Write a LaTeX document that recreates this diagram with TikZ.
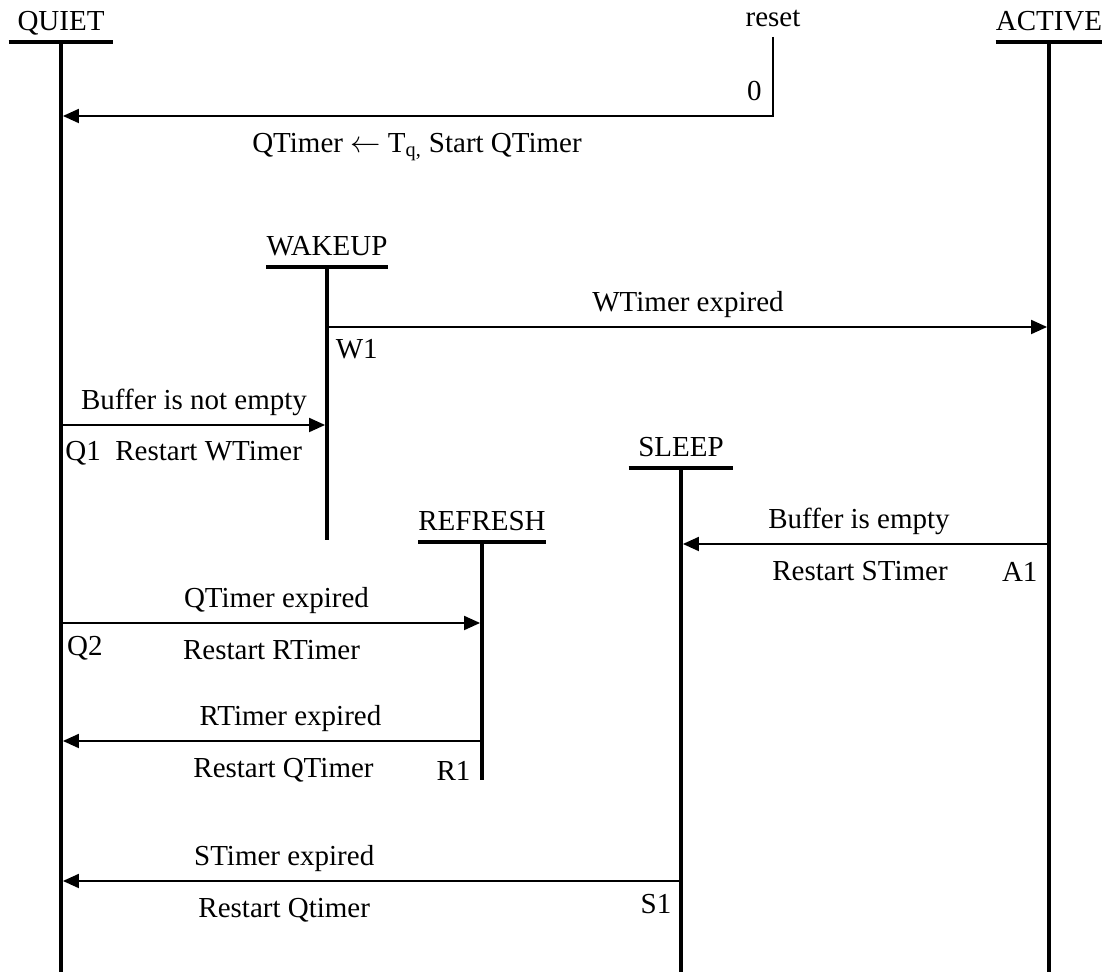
\documentclass[tikz,border=0pt]{standalone}
\usepackage{fontspec}
\setmainfont{Liberation Serif}
\usepackage{tikz}
\usetikzlibrary{
  arrows.meta,
  positioning
}
\tikzset{
  >={Triangle[length=3.2mm,width=2.8mm]},
  every node/.style={font=\fontsize{16.5}{19}\selectfont, text=black},
  statebar/.style={line width=2.2pt},
  state/.style={
    anchor=south,
    minimum width=2.08cm,
    inner xsep=0pt,
    inner ysep=6.5pt,
    text depth=0pt,
    append after command={(\tikzlastnode.south west) edge[statebar] (\tikzlastnode.south east)}
  },
  life/.style={line width=2.2pt},
  msg/.style={->, line width=1.1pt, shorten >=1.1pt},
  lbl/.style={inner sep=0pt, text height=11pt, text depth=3.5pt},
  msgabove/.style={lbl, above=5pt},
  msgbelow/.style={lbl, below=9pt},
  tag/.style={lbl},
}

\begin{document}
\begin{tikzpicture}[x=0.02cm, y=-0.02cm]

  \useasboundingbox (0,0) rectangle (1107,972);

  % =====================================================================
  % States and lifelines
  % =====================================================================
  \node[state] (quiet)   at (61,42)   {QUIET};
  \node[state] (active)  at (1049,42) {ACTIVE};
  \node[state] (wakeup)  at (327,267) {WAKEUP};
  \node[state] (sleep)   at (681,468) {SLEEP};
  \node[state] (refresh) at (482,542) {REFRESH};
  \node[anchor=south, inner ysep=5.5pt, text depth=0pt] (reset) at (773,37) {reset};

  \coordinate (bottom)     at (0,972);
  \coordinate (wakeupEnd)  at (327,540);
  \coordinate (refreshEnd) at (482,780);

  \draw[life] (quiet.south)   -- (quiet.south |- bottom);
  \draw[life] (active.south)  -- (active.south |- bottom);
  \draw[life] (sleep.south)   -- (sleep.south |- bottom);
  \draw[life] (wakeup.south)  -- (wakeupEnd);
  \draw[life] (refresh.south) -- (refreshEnd);

  % =====================================================================
  % Transitions
  % =====================================================================
  \coordinate (q0) at (61,116);
  \coordinate (w1) at (327,327);
  \coordinate (q1) at (61,425);
  \coordinate (a1) at (1049,544);
  \coordinate (q2) at (61,623);
  \coordinate (r1) at (482,741);
  \coordinate (s1) at (681,881);

  % reset -> QUIET
  \draw[msg] (reset.south) |- (q0)
    node[pos=0.5, tag, anchor=south east, xshift=-6pt, yshift=4.5pt] {0}
    node[pos=0.75, msgbelow] {QTimer $\leftarrow$ T\textsubscript{q,} Start QTimer};

  % WAKEUP -> ACTIVE
  \draw[msg] (w1) -- (w1 -| active)
    node[midway, msgabove] {WTimer expired}
    node[pos=0, tag, anchor=north west, xshift=4.5pt, yshift=-6.5pt] {W1};

  % QUIET -> WAKEUP
  \draw[msg] (q1) -- (q1 -| wakeup)
    node[midway, msgabove] {Buffer is not empty}
    node[pos=0, tag, anchor=north west, xshift=2pt, yshift=-8.5pt] {Q1\enspace Restart WTimer};

  % ACTIVE -> SLEEP
  \draw[msg] (a1) -- (a1 -| sleep)
    node[midway, msgabove, xshift=-0.12cm] {Buffer is empty}
    node[midway, msgbelow, xshift=-0.1cm] {Restart STimer}
    node[pos=0, tag, anchor=north east, xshift=-6pt, yshift=-10pt] {A1};

  % QUIET -> REFRESH
  \draw[msg] (q2) -- (q2 -| refresh)
    node[midway, msgabove, xshift=0.1cm] {QTimer expired}
    node[midway, msgbelow] {Restart RTimer}
    node[pos=0, tag, anchor=north west, xshift=3pt, yshift=-7pt] {Q2};

  % REFRESH -> QUIET
  \draw[msg] (r1) -- (r1 -| quiet)
    node[midway, msgabove, xshift=0.38cm] {RTimer expired}
    node[midway, msgbelow, xshift=0.24cm] {Restart QTimer}
    node[pos=0, tag, anchor=north east, xshift=-6pt, yshift=-11pt] {R1};

  % SLEEP -> QUIET
  \draw[msg] (s1) -- (s1 -| quiet)
    node[pos=0.64, msgabove] {STimer expired}
    node[pos=0.64, msgbelow] {Restart Qtimer}
    node[pos=0, tag, anchor=north east, xshift=-5pt, yshift=-7pt] {S1};

\end{tikzpicture}
\end{document}
